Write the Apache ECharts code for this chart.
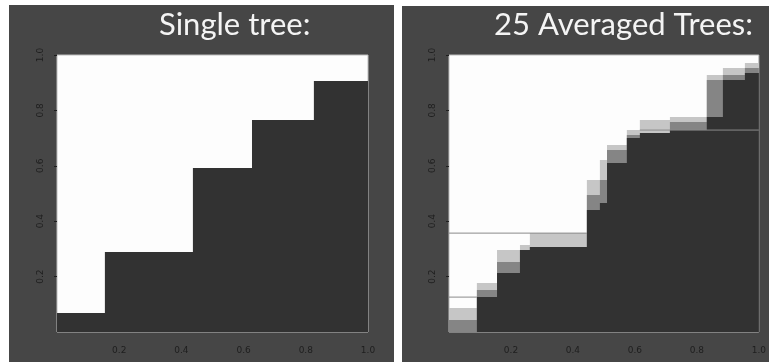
<!DOCTYPE html>
<html>
<head>
<meta charset="utf-8">
<script src="https://cdn.jsdelivr.net/npm/echarts@6/dist/echarts.min.js"></script>
<style>
  html, body { margin: 0; padding: 0; background: #ffffff; }
  #wrap { position: relative; width: 769px; height: 362px; }
  .panel { position: absolute; background: #464646; }
  #chart { position: absolute; left: 0; top: 0; width: 769px; height: 362px; }
</style>
</head>
<body>
<div id="wrap">
  <div class="panel" style="left:9px;top:5px;width:385px;height:357px;"></div>
  <div class="panel" style="left:402px;top:6px;width:367px;height:356px;"></div>
  <div id="chart"></div>
</div>
<script>
// Panel titles
const titles = ['Single tree:', '25 Averaged Trees:'];

// Axis ticks shared by both panels
const tickStep = 0.2;

// Single tree: step boundary (x where each step starts, height of the dark region)
const singleX = [0, 0.154, 0.437, 0.627, 0.826, 1];
const singleY = [0.069, 0.289, 0.592, 0.765, 0.906, 0.906];

// 25 averaged trees: column starts and the tops of the dark, mid-grey and light-grey bands
const avgX     = [0, 0.09, 0.155, 0.229, 0.261, 0.445, 0.487, 0.51, 0.574, 0.616, 0.713, 0.832, 0.884, 0.955, 1];
const avgDark  = [0, 0.126, 0.213, 0.296, 0.307, 0.44, 0.466, 0.61, 0.70, 0.718, 0.729, 0.776, 0.91, 0.935, 0.935];
const avgMid   = [0.043, 0.152, 0.253, 0.296, 0.307, 0.495, 0.549, 0.657, 0.711, 0.718, 0.758, 0.91, 0.928, 0.953, 0.953];
const avgLight = [0.087, 0.177, 0.296, 0.314, 0.357, 0.549, 0.621, 0.675, 0.729, 0.765, 0.776, 0.928, 0.953, 0.971, 0.971];

// Thin horizontal split lines left by individual trees: [y, xStart, xEnd]
const splitLines = [
  [0.357, 0, 0.445],
  [0.126, 0, 0.09],
  [0.729, 0.616, 1]
];

const DARK = '#323232';
const MID = '#858585';
const LIGHT = '#c6c6c6';

function pairs(xs, ys) { return xs.map((x, i) => [x, ys[i]]); }

function stepArea(grid, xs, ys, color) {
  return {
    type: 'line', xAxisIndex: grid, yAxisIndex: grid,
    data: pairs(xs, ys), step: 'end', symbol: 'none', silent: true,
    lineStyle: { width: 0, color: color },
    areaStyle: { color: color, opacity: 1 }
  };
}

function xAxis(grid) {
  return {
    type: 'value', gridIndex: grid, min: 0, max: 1, interval: tickStep,
    axisLine: { show: false }, splitLine: { show: false },
    axisTick: { show: false },
    axisLabel: {
      showMinLabel: false, color: '#1e1e1e', fontSize: 9, margin: 14,
      fontFamily: 'DejaVu Sans', formatter: v => v.toFixed(1)
    }
  };
}
function yAxis(grid) {
  return {
    type: 'value', gridIndex: grid, min: 0, max: 1, interval: tickStep,
    axisLine: { show: false }, splitLine: { show: false },
    axisTick: { show: true, length: 3, lineStyle: { color: '#1e1e1e' } },
    axisLabel: {
      showMinLabel: false, color: '#1e1e1e', fontSize: 9, rotate: 90, margin: 12,
      fontFamily: 'DejaVu Sans', formatter: v => v.toFixed(1)
    }
  };
}

const series = [
  stepArea(0, singleX, singleY, DARK),
  stepArea(1, avgX, avgLight, LIGHT),
  stepArea(1, avgX, avgMid, MID),
  stepArea(1, avgX, avgDark, DARK)
];
splitLines.forEach(([y, x0, x1]) => {
  series.push({
    type: 'line', xAxisIndex: 1, yAxisIndex: 1, symbol: 'none', silent: true,
    data: [[x0, y], [x1, y]],
    lineStyle: { width: 1, color: '#8a8a8a' }
  });
});

const titleStyle = { color: '#f4f4f4', fontSize: 31, fontWeight: 'normal', fontFamily: 'Lato' };

const chart = echarts.init(document.getElementById('chart'), null, { renderer: 'canvas' });
chart.setOption({
  animation: false,
  backgroundColor: 'transparent',
  title: [
    { text: titles[0], left: 154, top: 4, textStyle: titleStyle },
    { text: titles[1], left: 489, top: 4, textStyle: titleStyle }
  ],
  grid: [
    { left: 57, top: 55, width: 311, height: 277, show: true,
      backgroundColor: '#fdfdfd', borderColor: '#bdbdbd', borderWidth: 1 },
    { left: 449, top: 55, width: 310, height: 277, show: true,
      backgroundColor: '#fdfdfd', borderColor: '#bdbdbd', borderWidth: 1 }
  ],
  xAxis: [xAxis(0), xAxis(1)],
  yAxis: [yAxis(0), yAxis(1)],
  series: series
});
</script>
</body>
</html>
